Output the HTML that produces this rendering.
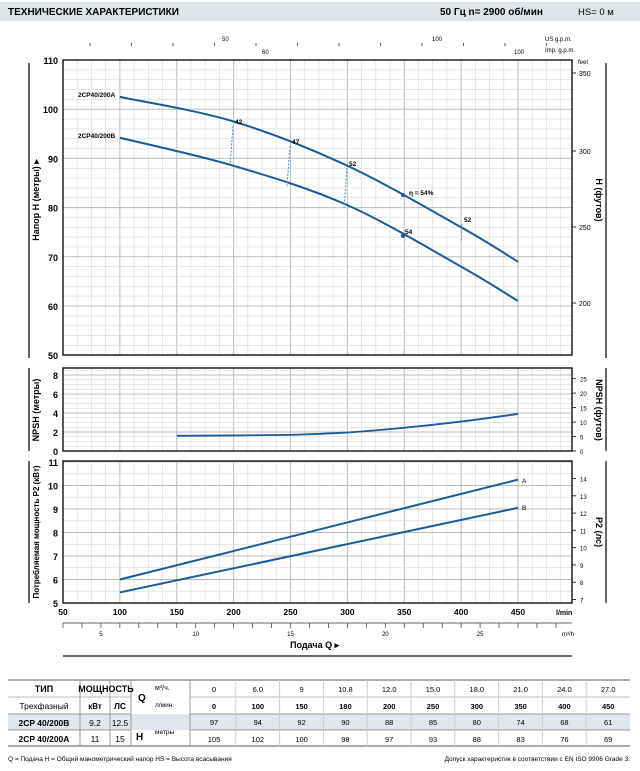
<!DOCTYPE html>
<html><head><meta charset="utf-8"><style>
body{margin:0;background:#fff;width:640px;height:766px;overflow:hidden;font-family:"Liberation Sans",sans-serif}
svg text{font-family:"Liberation Sans",sans-serif}
</style></head><body>
<svg id="s" width="640" height="766" xmlns="http://www.w3.org/2000/svg">
<rect x="0" y="2" width="640" height="19" fill="#dfe4ea"/>
<text x="8" y="15" font-size="10" font-weight="bold">ТЕХНИЧЕСКИЕ ХАРАКТЕРИСТИКИ</text>
<text x="440" y="15" font-size="10" font-weight="bold">50 Гц   n= 2900 об/мин</text>
<text x="578" y="15" font-size="9.5">HS= 0 м</text>
</svg>
<script>
const s=document.getElementById('s');let h='';
const X=q=>63+(q-50)*1.1375;const L=63,R=572;
function grid(top,bot,hstep){
 for(let q=50;q<=500;q+=12.5){const x=X(q);if(x>R)break;const maj=(q%50==0);h+=`<line x1="${x}" y1="${top}" x2="${x}" y2="${bot}" stroke="${maj?'#bbb':'#ddd'}" stroke-width="${maj?1:0.7}"/>`;}
 for(const [y,m] of hstep)h+=`<line x1="${L}" y1="${y}" x2="${R}" y2="${y}" stroke="${m?'#bbb':'#ddd'}" stroke-width="${m?1:0.7}"/>`;
 h+=`<rect x="${L}" y="${top}" width="${R-L}" height="${bot-top}" fill="none" stroke="#111" stroke-width="1.4"/>`;
}
const Y=H=>60+(110-H)*4.92;
let hs=[];for(let H=50;H<=110;H+=2)hs.push([Y(H),H%10==0]);
grid(60,355,hs);
for(let H=50;H<=110;H+=10)h+=`<text x="58" y="${Y(H)+4}" font-size="9" font-weight="bold" text-anchor="end">${H}</text>`;
h+=`<line x1="29" y1="63" x2="29" y2="358" stroke="#333" stroke-width="1.5"/><line x1="606" y1="63" x2="606" y2="358" stroke="#333" stroke-width="1.5"/>`;
h+=`<text transform="translate(39,200) rotate(-90)" font-size="9" font-weight="bold" text-anchor="middle">Напор H (метры) ▸</text>`;
h+=`<text transform="translate(596,200) rotate(90)" font-size="9" font-weight="bold" text-anchor="middle">H (футов)</text>`;
h+=`<text x="578" y="64" font-size="6">feet</text>`;
for(const [f,y] of [[350,73],[300,151],[250,227],[200,303]]){h+=`<line x1="572" y1="${y}" x2="576" y2="${y}" stroke="#333"/><text x="579" y="${y+3}" font-size="7">${f}</text>`;}
h+=`<text x="545" y="41" font-size="6">US g.p.m.</text><text x="545" y="52" font-size="6">Imp. g.p.m.</text>`;
for(let i=0;i<12;i++){const x=90+i*41.5;h+=`<line x1="${x}" y1="43" x2="${x}" y2="46" stroke="#555"/>`;}
h+=`<text x="222" y="41" font-size="6">50</text><text x="432" y="41" font-size="6">100</text><text x="262" y="54" font-size="6">60</text><text x="514" y="54" font-size="6">100</text>`;
function curve(p,w){let d=`M${p[0][0]},${p[0][1]}`;for(let i=0;i<p.length-1;i++){const p0=p[i-1]||p[i],p1=p[i],p2=p[i+1],p3=p[i+2]||p2;
 d+=` C${p1[0]+(p2[0]-p0[0])/6},${p1[1]+(p2[1]-p0[1])/6} ${p2[0]-(p3[0]-p1[0])/6},${p2[1]-(p3[1]-p1[1])/6} ${p2[0]},${p2[1]}`;}
 return `<path d="${d}" fill="none" stroke="#1a5a9a" stroke-width="${w||2}"/>`;}
const Q=[100,200,300,400,450];
const A=[102.5,97.5,88.5,76,69],B=[94.2,88.5,80.5,68,61];
h+=curve(Q.map((q,i)=>[X(q),Y(A[i])]));h+=curve(Q.map((q,i)=>[X(q),Y(B[i])]));
h+=`<text x="78" y="97" font-size="6.5" font-weight="bold">2CP40/200A</text><text x="78" y="138" font-size="6.5" font-weight="bold">2CP40/200B</text>`;
for(const [x1,y1,x2,y2,t] of [[233,126,230,166,'42'],[290,146,287,186,'47'],[347,168,344,208,'52'],[462,224,461,242,'52']]){h+=`<line x1="${x1}" y1="${y1}" x2="${x2}" y2="${y2}" stroke="#3b8fd0" stroke-dasharray="2,1.5"/><text x="${x1+2}" y="${y1-2}" font-size="6.5" font-weight="bold">${t}</text>`;}
h+=`<circle cx="403" cy="195" r="2" fill="#1a5a9a"/><text x="409" y="195" font-size="6.5" font-weight="bold">η = 54%</text>`;
h+=`<circle cx="403" cy="236" r="2" fill="#1a5a9a"/><text x="405" y="234" font-size="6.5" font-weight="bold">54</text>`;
const YN=v=>451-v*9.5;hs=[];for(let v=0;v<=8.5;v+=0.5)hs.push([YN(v),v%2==0]);
grid(368,451,hs);
for(let v=0;v<=8;v+=2)h+=`<text x="58" y="${YN(v)+4}" font-size="9" font-weight="bold" text-anchor="end">${v}</text>`;
for(let f=0;f<=25;f+=5){const y=451-f*0.3048*9.5;h+=`<line x1="572" y1="${y}" x2="576" y2="${y}" stroke="#333"/><text x="580" y="${y+3}" font-size="6">${f}</text>`;}
h+=`<line x1="29" y1="368" x2="29" y2="451" stroke="#333" stroke-width="1.5"/><line x1="606" y1="368" x2="606" y2="451" stroke="#333" stroke-width="1.5"/>`;
h+=`<text transform="translate(39,410) rotate(-90)" font-size="9" font-weight="bold" text-anchor="middle">NPSH (метры)</text>`;
h+=`<text transform="translate(596,410) rotate(90)" font-size="9" font-weight="bold" text-anchor="middle">NPSH (футов)</text>`;
h+=curve([[X(150),YN(1.6)],[X(250),YN(1.7)],[X(300),YN(1.95)],[X(350),YN(2.45)],[X(400),YN(3.1)],[X(450),YN(3.9)]],1.8);
const YP=v=>603-(v-5)*23.5;hs=[];for(let v=5;v<=11;v+=0.5)hs.push([YP(v),v%1==0]);
grid(461,603,hs);
for(let v=5;v<=11;v++)h+=`<text x="58" y="${YP(v)+4}" font-size="9" font-weight="bold" text-anchor="end">${v}</text>`;
for(let f=7;f<=14;f++){const y=YP(f*0.7355);h+=`<line x1="572" y1="${y}" x2="576" y2="${y}" stroke="#333"/><text x="580" y="${y+3}" font-size="6">${f}</text>`;}
h+=`<line x1="29" y1="461" x2="29" y2="603" stroke="#333" stroke-width="1.5"/><line x1="606" y1="461" x2="606" y2="603" stroke="#333" stroke-width="1.5"/>`;
h+=`<text transform="translate(39,532) rotate(-90)" font-size="8" font-weight="bold" text-anchor="middle">Потребляемая мощность P2 (кВт)</text>`;
h+=`<text transform="translate(596,532) rotate(90)" font-size="9" font-weight="bold" text-anchor="middle">P2 (лс)</text>`;
h+=curve([[X(100),YP(6)],[X(450),YP(10.25)]]);h+=curve([[X(100),YP(5.45)],[X(450),YP(9.05)]]);
h+=`<text x="522" y="483" font-size="6.5">A</text><text x="522" y="510" font-size="6.5">B</text>`;
for(let q=50;q<=450;q+=50)h+=`<text x="${X(q)}" y="615" font-size="8.5" font-weight="bold" text-anchor="middle">${q}</text>`;
h+=`<text x="556" y="615" font-size="7" font-weight="bold">l/min</text>`;
h+=`<line x1="63" y1="623" x2="572" y2="623" stroke="#333" stroke-width="0.7"/>`;
const XM=m=>X(m*1000/60);
for(let m=3;m<=30;m+=1){const x=XM(m);if(x<63||x>572)continue;h+=`<line x1="${x}" y1="623" x2="${x}" y2="628" stroke="#333" stroke-width="0.7"/>`;}
for(const m of [5,10,15,20,25])h+=`<text x="${XM(m)}" y="636" font-size="6" text-anchor="middle">${m}</text>`;
h+=`<text x="562" y="636" font-size="6">m³/h</text>`;
h+=`<text x="290" y="648" font-size="9" font-weight="bold">Подача Q ▸</text><line x1="63" y1="656" x2="572" y2="656" stroke="#111" stroke-width="1.3"/>`;
h+=`<rect x="8" y="714" width="622" height="16" fill="#dfe6ee"/>`;
h+=`<line x1="8" y1="680" x2="630" y2="680" stroke="#555"/><line x1="8" y1="746" x2="630" y2="746" stroke="#555"/>`;
h+=`<line x1="8" y1="714" x2="131" y2="714" stroke="#999"/><line x1="8" y1="730" x2="131" y2="730" stroke="#999"/><line x1="8" y1="697" x2="131" y2="697" stroke="#bbb"/><line x1="190" y1="697" x2="630" y2="697" stroke="#bbb"/><line x1="190" y1="714" x2="630" y2="714" stroke="#999"/><line x1="190" y1="730" x2="630" y2="730" stroke="#999"/>`;
for(const x of [80,110,131,190])h+=`<line x1="${x}" y1="680" x2="${x}" y2="746" stroke="#999"/>`;
for(let i=1;i<10;i++){const x=192+i*43.8;h+=`<line x1="${x}" y1="680" x2="${x}" y2="746" stroke="#ccc"/>`;}
h+=`<text x="44" y="692" font-size="9" font-weight="bold" text-anchor="middle">ТИП</text><text x="44" y="709" font-size="8.5" text-anchor="middle">Трехфазный</text>`;
h+=`<text x="106" y="692" font-size="9" font-weight="bold" text-anchor="middle">МОЩНОСТЬ</text><text x="95" y="709" font-size="8" font-weight="bold" text-anchor="middle">кВт</text><text x="120" y="709" font-size="8.5" font-weight="bold" text-anchor="middle">ЛС</text>`;
h+=`<text x="44" y="726" font-size="8.5" font-weight="bold" text-anchor="middle">2CP 40/200B</text><text x="44" y="742" font-size="8.5" font-weight="bold" text-anchor="middle">2CP 40/200A</text>`;
h+=`<text x="95" y="726" font-size="8.5" text-anchor="middle">9.2</text><text x="120" y="726" font-size="8.5" text-anchor="middle">12.5</text><text x="95" y="742" font-size="8.5" text-anchor="middle">11</text><text x="120" y="742" font-size="8.5" text-anchor="middle">15</text>`;
h+=`<text x="138" y="701" font-size="10" font-weight="bold">Q</text><text x="136" y="740" font-size="10" font-weight="bold">H</text>`;
h+=`<text x="155" y="690" font-size="7">м³/ч.</text><text x="155" y="707" font-size="6.5">л/мин.</text><text x="155" y="734" font-size="6.5">метры</text>`;
const r1=['0','6.0','9','10.8','12.0','15.0','18.0','21.0','24.0','27.0'],r2=['0','100','150','180','200','250','300','350','400','450'],r3=['97','94','92','90','88','85','80','74','68','61'],r4=['105','102','100','98','97','93','88','83','76','69'];
for(let i=0;i<10;i++){const x=214+i*43.8;h+=`<text x="${x}" y="692" font-size="7.5" text-anchor="middle">${r1[i]}</text><text x="${x}" y="709" font-size="7.5" font-weight="bold" text-anchor="middle">${r2[i]}</text><text x="${x}" y="725" font-size="7.5" text-anchor="middle">${r3[i]}</text><text x="${x}" y="742" font-size="7.5" text-anchor="middle">${r4[i]}</text>`;}
h+=`<text x="8" y="761" font-size="6.5">Q = Подача   H = Общий манометрический напор    HS = Высота всасывания</text><text x="630" y="761" font-size="6.5" text-anchor="end">Допуск характеристик в соответствии с EN ISO 9906 Grade 3.</text>`;
s.insertAdjacentHTML('beforeend',h);
</script>
</body></html>
